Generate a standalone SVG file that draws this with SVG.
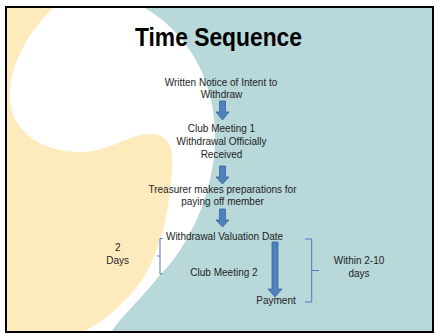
<svg xmlns="http://www.w3.org/2000/svg" width="435" height="333" viewBox="0 0 435 333">
<style>
.t{font-family:"Liberation Sans",Arial,sans-serif;font-size:10px;fill:#1e1e1e;text-anchor:middle}
.title{font-family:"Liberation Sans",Arial,sans-serif;font-size:25px;font-weight:bold;fill:#000;text-anchor:middle}
.arrow{fill:#4F81BD;stroke:#3A6496;stroke-width:0.8}
.brace{fill:none;stroke:#4A78C0;stroke-width:1}
</style>
<defs>
<clipPath id="slide"><rect x="7" y="8" width="425" height="323"/></clipPath>
</defs>
<rect width="435" height="333" fill="#fff"/>
<g id="background" clip-path="url(#slide)">
<rect x="7" y="8" width="425" height="323" fill="#FDEBBE"/>
<path d="M53,8 C30,30 8,65 10,100 C12,130 40,152 80,152 C110,152 130,133 152,134 C170,135 174,150 172,170 C170,200 165,240 145,275 C130,300 105,320 85,331 L432,331 L432,8 Z" fill="#fff"/>
<path d="M145,8 C190,35 213,80 215,130 C217,180 195,240 160,275 C140,300 120,318 112,331 L432,331 L432,8 Z" fill="#B8D8DA"/>
</g>
<rect x="6" y="7" width="427" height="325" fill="none" stroke="#000" stroke-width="2"/>
<g id="title"><text class="title" x="218.5" y="46" textLength="167" lengthAdjust="spacingAndGlyphs">Time Sequence</text></g>
<g id="node-notice"><text class="t" x="221" y="86">Written Notice of Intent to</text><text class="t" x="221.5" y="98">Withdraw</text></g>
<g id="node-meeting1"><text class="t" x="221.5" y="132">Club Meeting 1</text><text class="t" x="221.5" y="145">Withdrawal Officially</text><text class="t" x="221.5" y="157.5">Received</text></g>
<g id="node-treasurer"><text class="t" x="222.5" y="193">Treasurer makes preparations for</text><text class="t" x="222.5" y="205">paying off member</text></g>
<g id="node-valuation"><text class="t" x="224.5" y="240">Withdrawal Valuation Date</text></g>
<g id="node-meeting2"><text class="t" x="224" y="276">Club Meeting 2</text></g>
<g id="node-payment"><text class="t" x="276" y="304">Payment</text></g>
<g id="label-2days"><text class="t" x="117.7" y="251">2</text><text class="t" x="117.7" y="264">Days</text></g>
<g id="label-within"><text class="t" x="359" y="264">Within 2-10</text><text class="t" x="359" y="277">days</text></g>
<g id="connectors">
<path class="arrow" d="M219.5,101 H225.5 V112 H229 L222.5,120 L216,112 H219.5 Z"/>
<path class="arrow" d="M219.5,166 H225.5 V177 H229 L222.5,184 L216,177 H219.5 Z"/>
<path class="arrow" d="M219.5,209 H225.5 V220 H229 L222.5,227 L216,220 H219.5 Z"/>
<path class="arrow" d="M272,242 H278 V289 H282 L275,297 L268,289 H272 Z"/>
<path class="brace" d="M162.5,238.5 H160 V256 H157.3 M160,256 V274 H162.5"/>
<path class="brace" d="M305,239 H311.7 V270.5 H319 M311.7,270.5 V302 H305"/>
</g>
</svg>
